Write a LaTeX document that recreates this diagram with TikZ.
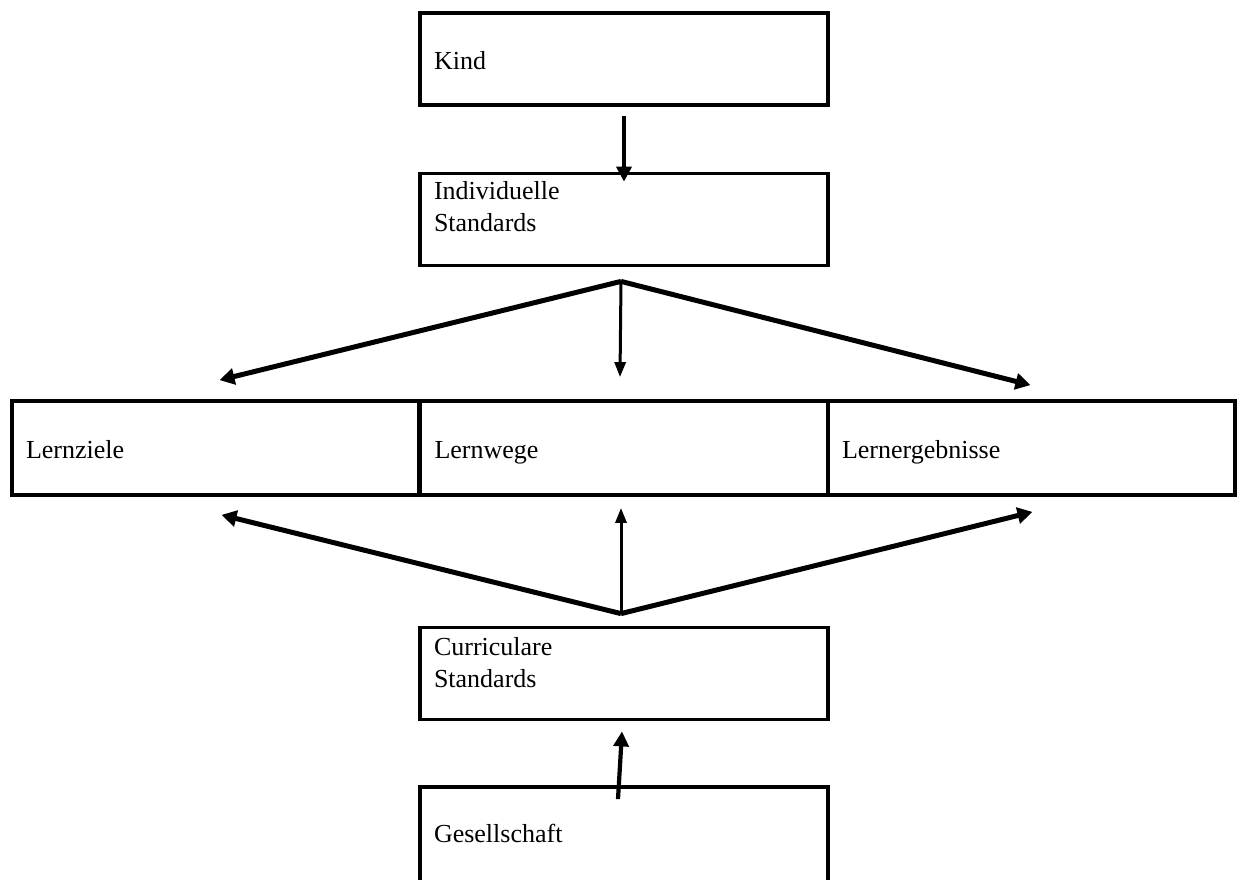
\documentclass[tikz,border=0pt]{standalone}
\usepackage{fontspec}
\setmainfont{Liberation Serif}
\usetikzlibrary{arrows.meta,positioning}
\tikzset{
  boxK/.style={ draw, line width=1.9pt, minimum width=204pt, minimum height=46pt, text width=190pt, inner xsep=7pt, align=left, font=\fontsize{13}{16}\selectfont, text height=11pt, text depth=1pt }
}
\tikzset{
  boxL/.style={ boxK, minimum width=203.5pt, minimum height=47pt, text width=189.5pt }
}
\tikzset{
  boxTwo/.style={ boxK, inner ysep=0pt, text depth=31pt }
}
\tikzset{
  arrD/.style={ line width=2.5pt, -{Triangle[length=7.5pt,width=8pt]} }
}
\tikzset{
  arrV/.style={ line width=2.1pt, -{Triangle[length=7.5pt,width=7.5pt]} }
}
\tikzset{
  arrT/.style={ line width=1.5pt, -{Triangle[length=7.5pt,width=5.5pt]} }
}

\begin{document}
\begin{tikzpicture}[x=0.5pt, y=-0.5pt]
  \useasboundingbox (0,0) rectangle (1238,879);

  \node[boxK] (kind) at (624, 59) {Kind};
  \node[boxTwo] (indiv) at (624, 219.5) {Individuelle\\Standards};

  \node[boxL] (ziele) at (215.5, 448) {Lernziele};
  \node[boxL] (wege) at (624, 448) {Lernwege};
  \node[boxL] (erg) at (1031.5, 448) {Lernergebnisse};

  \node[boxTwo, text depth=29.5pt] (curr) at (624, 673.5) {Curriculare\\Standards};
  \node[boxK, minimum height=48pt, text depth=4pt] (gesell) at (624, 835) {Gesellschaft};

  \draw[arrV] ([yshift=-4.5pt]kind.south) -- ([yshift=-5pt]indiv.north);

  % fan down
  \coordinate (fanA) at ([xshift=-1.5pt, yshift=-7pt]indiv.south);
  \draw[arrD] (fanA) -- ([xshift=2pt, yshift=9.5pt]ziele.north);
  \draw[arrT] (fanA) -- ([xshift=-2pt, yshift=11pt]wege.north);
  \draw[arrD] (fanA) -- ([xshift=-0.5pt, yshift=7pt]erg.north);

  % fan up
  \coordinate (fanB) at ([xshift=-1.5pt, yshift=6pt]curr.north);
  \draw[arrD] (fanB) -- ([xshift=3pt, yshift=-9pt]ziele.south);
  \draw[arrT] (fanB) -- ([xshift=-1.5pt, yshift=-5.5pt]wege.south);
  \draw[arrD] (fanB) -- ([xshift=0.5pt, yshift=-7.5pt]erg.south);

  \draw[arrV] ([xshift=-3pt, yshift=-7pt]gesell.north) -- ([xshift=-1pt, yshift=-5pt]curr.south);
\end{tikzpicture}
\end{document}
